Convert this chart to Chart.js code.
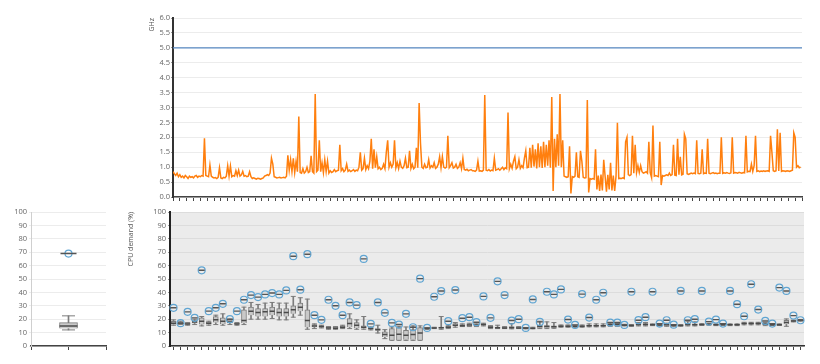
<!DOCTYPE html>
<html>
<head>
<meta charset="utf-8">
<title>CPU frequency and demand</title>
<script src="https://cdn.jsdelivr.net/npm/chart.js@4.4.1/dist/chart.umd.min.js"></script>
<style>
  html, body { margin: 0; padding: 0; background: #fff; }
  #wrap { position: relative; width: 820px; height: 364px; overflow: hidden; }
  .panel { position: absolute; }
</style>
</head>
<body>
<div id="wrap">
  <div class="panel" style="left:140px;top:0;width:680px;height:205px"><canvas id="freqChart"></canvas></div>
  <div class="panel" style="left:0;top:200px;width:120px;height:164px"><canvas id="overallChart"></canvas></div>
  <div class="panel" style="left:120px;top:200px;width:700px;height:164px"><canvas id="demandChart"></canvas></div>
</div>
<script>
// CPU clock, one reading per minute (GHz)
const ghzValues = [
  0.85, 0.78, 0.72, 0.8, 0.68, 0.75, 0.66, 0.7, 0.64, 0.72, 0.68, 0.62, 0.7, 0.66, 0.68, 0.64, 0.7, 0.72, 0.66, 0.7,
  0.68, 0.72, 0.7, 1.97, 0.72, 0.7, 0.68, 1.07, 0.7, 0.66, 0.64, 0.65, 0.62, 0.66, 0.98, 0.64, 0.62, 0.66, 0.64, 0.7,
  1.05, 0.7, 1.04, 0.68, 0.72, 0.7, 0.88, 0.72, 0.9, 0.7, 0.74, 0.86, 0.7, 0.72, 0.68, 0.7, 0.85, 0.68, 0.62, 0.64,
  0.62, 0.6, 0.63, 0.62, 0.6, 0.62, 0.64, 0.7, 0.72, 0.75, 0.72, 0.8, 1.3, 1.1, 0.68, 0.66, 0.64, 0.65, 0.66, 0.64,
  0.65, 0.66, 0.64, 0.7, 1.4, 0.9, 1.25, 0.85, 1.3, 0.82, 1.2, 0.85, 2.7, 0.82, 0.8, 0.95, 0.8, 0.85, 1.0, 0.82,
  0.85, 1.38, 0.85, 0.8, 3.45, 0.85, 0.9, 1.9, 0.85, 1.15, 0.82, 1.25, 0.85, 1.2, 0.8, 0.88, 0.82, 0.85, 0.92, 0.85,
  0.88, 0.9, 1.75, 0.88, 0.95, 0.85, 0.9, 1.1, 0.86, 0.9, 0.85, 0.88, 0.92, 0.86, 0.9, 0.88, 1.0, 1.5, 0.9, 0.95,
  1.3, 0.92, 1.05, 0.95, 1.2, 1.95, 0.95, 1.6, 0.98, 1.35, 0.95, 1.0, 0.92, 0.96, 1.1, 0.95, 1.5, 1.9, 1.0, 1.15,
  1.0, 1.1, 1.9, 0.98, 1.15, 0.95, 1.2, 1.0, 0.96, 1.05, 1.3, 0.98, 1.0, 1.55, 0.96, 1.1, 0.95, 1.0, 1.65, 0.98,
  3.15, 1.8, 1.0, 0.96, 1.1, 0.98, 1.0, 1.25, 0.97, 1.05, 1.0, 1.15, 0.96, 1.0, 1.1, 1.35, 0.98, 1.35, 1.0, 0.97,
  1.0, 2.05, 0.98, 1.05, 1.15, 0.97, 1.0, 1.1, 0.96, 1.0, 1.15, 0.95, 1.3, 0.92, 0.9, 0.93, 0.88, 0.9, 0.92, 0.88,
  0.88, 0.86, 0.9, 1.2, 0.87, 0.88, 0.86, 0.9, 3.42, 0.9, 0.88, 0.92, 0.87, 0.9, 0.88, 1.3, 0.9, 0.92, 0.95, 0.9,
  0.95, 1.0, 0.92, 0.98, 0.95, 2.83, 0.95, 1.1, 0.96, 1.2, 1.35, 0.95, 1.0, 1.25, 0.96, 1.05, 0.98, 1.3, 1.55, 0.98,
  1.0, 1.65, 0.98, 1.75, 1.02, 1.6, 0.96, 1.8, 1.0, 1.7, 0.97, 1.85, 1.0, 1.75, 1.05, 1.9, 0.98, 3.35, 0.2, 1.95,
  1.0, 2.1, 1.05, 3.45, 1.0, 1.9, 0.7, 0.68, 0.66, 0.68, 1.7, 0.12, 0.68, 0.66, 0.7, 1.5, 0.68, 0.66, 1.55, 1.2,
  0.66, 0.64, 0.65, 3.25, 0.15, 0.62, 0.6, 0.62, 0.6, 1.6, 0.25, 0.72, 0.2, 0.75, 0.22, 1.25, 0.7, 0.18, 0.74, 0.25,
  1.15, 0.22, 0.72, 0.2, 0.7, 2.49, 0.62, 0.63, 0.62, 0.64, 0.62, 1.85, 2.0, 0.75, 0.72, 0.75, 2.05, 0.8, 1.75, 0.82,
  1.05, 0.82, 1.05, 0.85, 0.8, 0.82, 0.85, 0.8, 1.85, 0.82, 0.65, 2.4, 0.7, 0.72, 0.7, 0.68, 1.85, 0.4, 0.72, 0.7,
  0.72, 0.74, 0.72, 0.8, 0.72, 0.75, 1.75, 0.73, 0.72, 1.95, 0.75, 1.35, 0.74, 0.76, 2.1, 1.95, 0.78, 0.76, 0.78, 0.8,
  0.78, 0.8, 0.78, 1.9, 0.79, 0.78, 0.8, 1.6, 0.78, 0.8, 0.79, 1.95, 0.8, 0.78, 0.8, 0.82, 0.79, 0.8, 0.78, 0.8,
  0.8, 2.0, 0.79, 0.81, 0.8, 0.82, 0.8, 0.79, 0.81, 2.0, 0.8, 0.82, 0.81, 0.8, 0.83, 0.81, 0.8, 0.82, 0.81, 2.05,
  0.84, 0.86, 0.85, 1.1, 0.86, 1.05, 2.05, 0.86, 0.88, 0.85, 0.87, 0.86, 0.88, 0.86, 0.87, 0.88, 0.86, 2.05, 1.5, 0.88,
  0.86, 0.88, 2.27, 0.87, 2.15, 0.86, 0.88, 0.87, 0.86, 0.88, 0.87, 0.86, 0.88, 0.9, 2.15, 2.0, 1.0, 1.05, 0.98, 1.0
];
const ghzLimit = 5.0;

// CPU demand per segment (%): whisker low, quartiles, whisker high, outlier
const cpuLow = [
  15.5, 16, 15.5, 16, 15, 15.5, 16, 15.5, 16, 15.5, 16, 20, 20, 20, 20.5, 19.5, 19.5, 21.5, 23, 12.5,
  13, 13.5, 12.5, 12.5, 13, 13, 12.5, 12.5, 12, 9.7, 5.5, 4.2, 4.2, 4.2, 4.2, 4.2, 12.5, 13, 12.5, 13,
  14, 14.5, 14.5, 14.5, 15, 13, 13, 13, 12.8, 13, 12.8, 12.8, 13, 13, 13.2, 14, 14, 14, 14, 14.3,
  14.3, 14.3, 14.7, 14.7, 15, 14.7, 15, 15, 15.2, 15, 14.7, 14.8, 14.8, 15, 15, 15.3, 15.5, 15.2, 15.3, 15.2,
  15.2, 15.8, 15.8, 15.8, 15.2, 15.3, 15.3, 14.7, 18, 18.5
];
const cpuQ1 = [
  16, 16.5, 16, 17, 16, 16, 17.5, 16.5, 17, 16, 17, 23, 22, 22, 23, 22, 22, 24, 26, 14,
  14, 14, 13, 13, 13.5, 14, 13.5, 13, 12.5, 11.5, 6.7, 4.5, 4.5, 4.7, 4.7, 4.5, 12.8, 13.2, 13, 13.5,
  14.7, 15, 15, 15, 15.5, 13.5, 13.3, 13.2, 13.2, 13.2, 13, 13, 13.7, 13.7, 13.7, 14.3, 14.3, 14.3, 14.3, 14.7,
  14.7, 14.7, 15.2, 15.2, 15.2, 15, 15.5, 15.5, 15.5, 15.3, 15.2, 15, 15, 15.3, 15.3, 15.6, 15.8, 15.5, 15.6, 15.5,
  15.5, 16.2, 16.2, 16.2, 15.5, 15.6, 15.6, 16.2, 18.3, 18.8
];
const cpuMedian = [
  17, 17, 16.5, 18, 18.5, 17, 19.5, 18.5, 18, 16.5, 19, 26, 25, 25.5, 26, 25, 25, 27, 29, 19,
  15, 14.5, 13.5, 13.2, 14, 16.7, 15.5, 14, 13, 12.2, 8.5, 8, 8.7, 8, 8.5, 9.7, 13, 13.5, 13.6, 14,
  15.5, 15.2, 15.7, 15.5, 16, 14, 13.7, 13.5, 13.7, 13.5, 13.2, 13.2, 14.5, 14.5, 14.3, 14.7, 14.7, 14.7, 14.7, 15.2,
  15.2, 15.2, 15.8, 16, 15.5, 15.3, 16, 16, 15.8, 15.6, 15.8, 15.3, 15.3, 16, 15.8, 16, 16.2, 15.8, 16, 15.8,
  15.8, 16.7, 16.7, 16.7, 16.2, 15.9, 15.9, 17.5, 18.7, 19.2
];
const cpuQ3 = [
  18.5, 18, 17, 19, 21, 18, 22, 21, 19.5, 17, 27, 29, 28, 28, 29, 28, 28, 30, 32, 27,
  16, 15, 14, 14, 15, 20.5, 17.5, 15, 13.7, 13, 10.5, 13, 13.7, 11.7, 12.2, 13.7, 13.3, 13.8, 14.2, 14.7,
  16.7, 16, 16.5, 16, 16.5, 14.7, 14.2, 14, 14.5, 14, 13.5, 13.6, 15.5, 15.2, 15, 15.2, 15.2, 15, 15.2, 15.7,
  15.7, 15.7, 16.7, 16.9, 15.8, 15.7, 16.7, 16.7, 16.2, 16, 16.5, 15.6, 15.6, 17, 16.5, 16.3, 16.6, 16.2, 16.3, 16.2,
  16.2, 17.2, 17.2, 17.2, 16.8, 16.2, 16.2, 19.2, 19, 19.5
];
const cpuHigh = [
  19.5, 18.5, 17.5, 20, 22, 18.5, 23, 24, 20, 17.5, 29, 32.5, 31, 32, 32.5, 32, 32, 37, 36, 35,
  16.5, 15.5, 14.5, 14.5, 15.5, 24, 19.5, 22, 14.2, 15.5, 12.2, 14.2, 14.7, 14.2, 15, 15, 13.5, 14, 22, 15.5,
  17.5, 16.5, 17, 16.5, 17, 15.2, 15.5, 14.5, 16.7, 14.5, 13.8, 14, 18.5, 18, 17.5, 15.7, 15.7, 15.5, 15.7, 16.5,
  16.5, 16.5, 17.2, 17.5, 16.2, 16, 17.5, 17.5, 16.5, 16.3, 17, 16, 16, 18.5, 18, 16.6, 17, 16.5, 16.6, 16.5,
  16.5, 17.7, 17.7, 17.7, 17.5, 16.5, 16.5, 20.2, 19.3, 19.8
];
const cpuOutlier = [
  28.5, 17, 25.5, 21, 56.5, 26, 28.5, 31.5, 20, 26, 34.5, 38, 36.5, 38.5, 39.5, 38.5, 41.5, 67, 42, 68.5,
  23, 19.5, 34.5, 30, 23, 32.5, 30.5, 65, 16.5, 32.5, 24.75, 17.25, 16, 24, 14, 50.25, 13.5, 36.75, 41, 18.5,
  41.75, 20.75, 21.5, 17.75, 37, 21, 48.25, 38, 19, 20, 13.5, 34.75, 18, 40.5, 38.5, 42.25, 19.75, 15.75, 38.75, 21.25,
  34.5, 39.75, 17.5, 17.5, 15.75, 40.5, 19.25, 21.5, 40.5, 16.7, 19.2, 15.9, 41.1, 19.2, 20, 41.1, 18.2, 19.7, 16.7, 41.1,
  31.2, 22.2, 46.1, 27.2, 18.7, 16.7, 43.6, 41.1, 22.7, 19.2
];

// whole run: whisker low, q1, median, q3, whisker high, and its outlier
const overallBox = [12, 13, 15, 17.5, 22.5];
const overallOutlier = 69;

document.addEventListener('DOMContentLoaded', function() {
    const tickFont = { family: 'Open Sans', size: 7.5 };
    const tickColor = '#666';
    const boxFill = '#c9c9c9';
    const boxLine = '#7c7c7c';
    const outlierBlue = 'rgb(96,165,210)';

    // paints the plot area before anything else
    const plotBg = {
        id: 'plotBg',
        beforeDraw(chart, args, opts) {
            if (!opts.color) return;
            const { ctx, chartArea: a } = chart;
            ctx.save();
            ctx.fillStyle = opts.color;
            ctx.fillRect(a.left, a.top, a.right - a.left, a.bottom - a.top);
            ctx.restore();
        }
    };

    Chart.defaults.animation = false;
    Chart.defaults.font.family = 'Open Sans';
    Chart.defaults.plugins.legend.display = false;
    Chart.defaults.plugins.tooltip.enabled = false;

    // Frequency chart
    new Chart(document.getElementById('freqChart'), {
        type: 'line',
        data: {
            datasets: [
                {
                    data: [{ x: 0, y: ghzLimit }, { x: 460, y: ghzLimit }],
                    borderColor: 'rgb(88,138,195)',
                    borderWidth: 1.3,
                    pointRadius: 0
                },
                {
                    data: ghzValues.map((v, i) => ({ x: i, y: v })),
                    borderColor: 'rgb(255,127,14)',
                    borderWidth: 1.5,
                    pointRadius: 0,
                    tension: 0
                }
            ]
        },
        options: {
            responsive: true,
            maintainAspectRatio: false,
            layout: { padding: { left: 0, right: 18, top: 18, bottom: 4 } },
            scales: {
                x: {
                    type: 'linear',
                    min: 0,
                    max: 460,
                    ticks: { stepSize: 5, display: false, maxTicksLimit: 200 },
                    grid: { drawOnChartArea: false, tickLength: 4, tickColor: '#444' },
                    border: { color: '#444', width: 1.5 }
                },
                y: {
                    min: 0,
                    max: 6,
                    ticks: {
                        stepSize: 0.5,
                        font: tickFont,
                        color: tickColor,
                        padding: 1,
                        callback: v => v.toFixed(1)
                    },
                    grid: { color: '#ececec', tickLength: 2, tickColor: '#999' },
                    border: { color: '#333', width: 2 },
                    title: {
                        display: true,
                        text: 'GHz',
                        align: 'end',
                        color: '#555',
                        font: { size: 7 },
                        padding: { top: 8, bottom: 0 }
                    },
                    afterFit: scale => { scale.width = 33; }
                }
            }
        }
    });

    // Boxplot datasets built from the arrays above
    function boxDatasets(low, q1, med, q3, high, out, w) {
        return [
            {
                type: 'line', data: out, showLine: false, order: 1,
                pointStyle: 'line', pointRadius: w.dash, pointBorderColor: '#555', pointBorderWidth: 1.4
            },
            {
                type: 'line', data: out, showLine: false, order: 2,
                pointStyle: 'circle', pointRadius: 3.5, pointBackgroundColor: 'rgba(255,255,255,0)',
                pointBorderColor: outlierBlue, pointBorderWidth: 1.2
            },
            {
                type: 'line', data: med, showLine: false, order: 3,
                pointStyle: 'line', pointRadius: w.box / 2, pointBorderColor: '#4a4a4a', pointBorderWidth: 1.5
            },
            {
                type: 'line', data: high, showLine: false, order: 4,
                pointStyle: 'line', pointRadius: w.cap, pointBorderColor: boxLine, pointBorderWidth: 1
            },
            {
                type: 'line', data: low, showLine: false, order: 4,
                pointStyle: 'line', pointRadius: w.cap, pointBorderColor: boxLine, pointBorderWidth: 1
            },
            {
                data: q1.map((v, i) => (v === null ? null : [v, q3[i]])), order: 5, grouped: false,
                barThickness: w.box, backgroundColor: boxFill, borderColor: boxLine, borderWidth: 1
            },
            {
                data: low.map((v, i) => (v === null ? null : [v, high[i]])), order: 6, grouped: false,
                barThickness: 1, backgroundColor: boxLine, borderWidth: 0
            }
        ];
    }

    function percentAxis(width, dark) {
        return {
            min: 0,
            max: 100,
            ticks: { stepSize: 10, font: tickFont, color: tickColor, padding: 2 },
            grid: { color: dark ? '#dcdcdc' : '#ececec', tickLength: 2, tickColor: dark ? '#999' : '#ececec' },
            border: { color: dark ? '#222' : '#cfcfcf', width: dark ? 2 : 1 },
            afterFit: scale => { scale.width = width; }
        };
    }

    // Overall box on the left
    const overallLabels = ['', 'all', ''];
    const pick = v => [null, v, null];
    new Chart(document.getElementById('overallChart'), {
        type: 'bar',
        data: {
            labels: overallLabels,
            datasets: boxDatasets(
                pick(overallBox[0]), pick(overallBox[1]), pick(overallBox[2]),
                pick(overallBox[3]), pick(overallBox[4]), pick(overallOutlier),
                { box: 18, cap: 6.5, dash: 8 }
            )
        },
        options: {
            responsive: true,
            maintainAspectRatio: false,
            layout: { padding: { left: 0, right: 14, top: 12, bottom: 14 } },
            scales: {
                x: {
                    offset: false,
                    ticks: { display: false },
                    grid: { offset: false, drawOnChartArea: false, tickLength: 4, tickColor: '#444' },
                    border: { color: '#444', width: 1.5 }
                },
                y: percentAxis(31, false)
            }
        }
    });

    // Per-segment boxes on the right
    const segmentLabels = cpuMedian.map((_, i) => String(i + 1));
    const demandY = percentAxis(50, true);
    demandY.title = {
        display: true,
        text: 'CPU demand (%)',
        align: 'end',
        color: '#555',
        font: { size: 7 },
        padding: { top: 7, bottom: 0 }
    };
    new Chart(document.getElementById('demandChart'), {
        type: 'bar',
        data: {
            labels: segmentLabels,
            datasets: boxDatasets(cpuLow, cpuQ1, cpuMedian, cpuQ3, cpuHigh, cpuOutlier, { box: 5, cap: 2.5, dash: 3 })
        },
        plugins: [plotBg],
        options: {
            responsive: true,
            maintainAspectRatio: false,
            layout: { padding: { left: 0, right: 16, top: 12, bottom: 14 } },
            plugins: { plotBg: { color: '#ebebeb' } },
            scales: {
                x: {
                    ticks: { display: false },
                    grid: { offset: false, drawOnChartArea: false, tickLength: 4, tickColor: '#444' },
                    border: { color: '#333', width: 1.5 }
                },
                y: demandY
            }
        }
    });
});
</script>
</body>
</html>
